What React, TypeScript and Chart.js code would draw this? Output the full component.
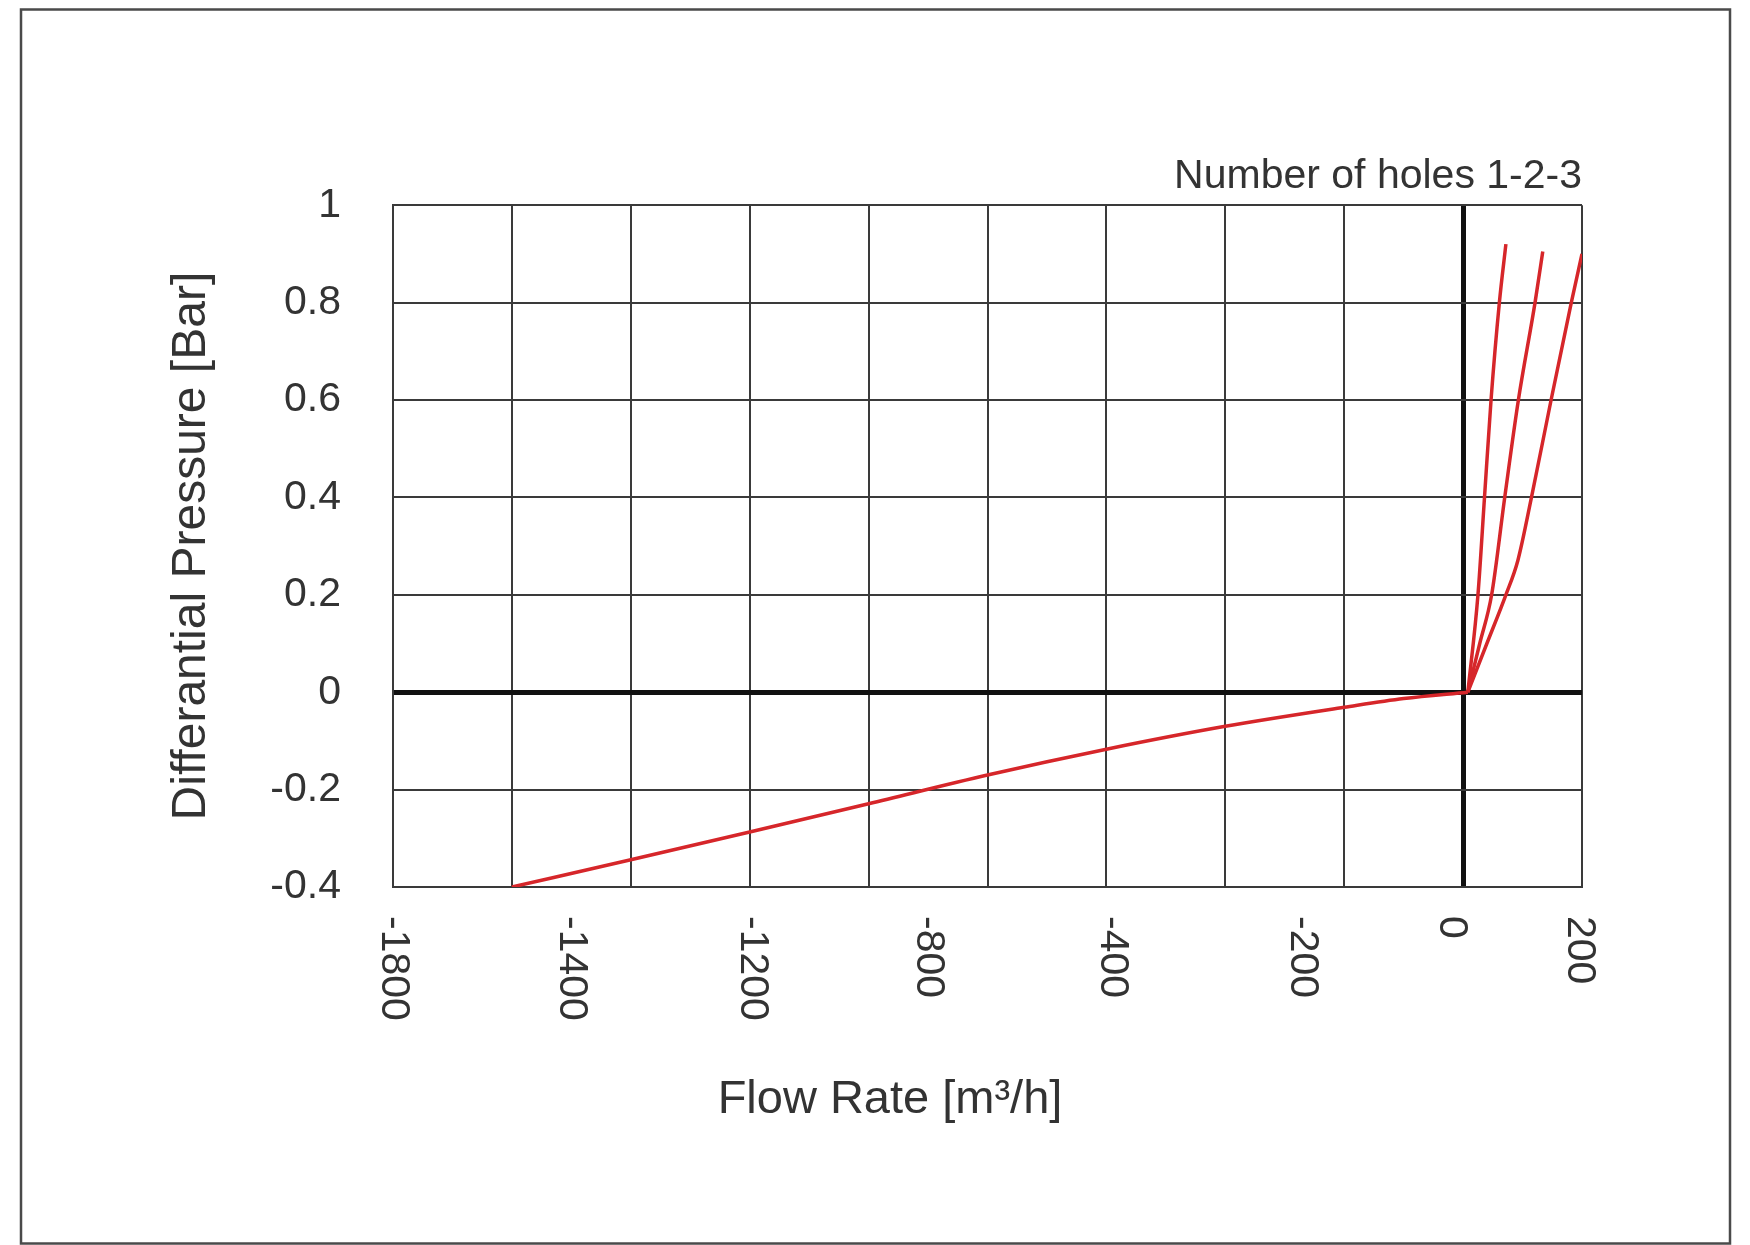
import React, { useEffect, useRef } from 'react';
import { Chart, registerables } from 'chart.js';

Chart.register(...registerables);

// ---- Data ----
const xMin = -1800;
const xMax = 200;
const xStep = 200;
const yMin = -0.4;
const yMax = 1;
const yStep = 0.2;

// Reverse flow (negative) branch
const reverseFlowX = [-1600, -1400, -1200, -1000, -800, -600, -400, -200, -100, 8];
const reverseFlowY = [-0.4, -0.344, -0.287, -0.229, -0.17, -0.117, -0.07, -0.031, -0.013, 0];

// Forward flow, 1 hole / 2 holes / 3 holes
const holes1X = [8, 25, 36, 47, 61, 72];
const holes1Y = [0, 0.2, 0.4, 0.6, 0.8, 0.92];
const holes2X = [8, 28, 48, 70, 93, 121, 134];
const holes2Y = [0, 0.1, 0.2, 0.4, 0.6, 0.8, 0.905];
const holes3X = [8, 40, 72, 92, 115, 148, 182, 200];
const holes3Y = [0, 0.1, 0.2, 0.27, 0.4, 0.6, 0.8, 0.9];

// X tick labels as printed on the original (placed where the original prints them)
const xTickLabels = ['-1800', '-1400', '-1200', '-800', '-400', '-200', '0', '200'];
const xTickLabelAt = [-1800, -1500, -1195, -900, -590, -270, -20, 195];

const titleText = 'Number of holes 1-2-3';
const xTitleText = 'Flow Rate [m³/h]';
const yTitleText = 'Differantial Pressure [Bar]';

const FONT = '"Liberation Sans", Arial, Helvetica, sans-serif';
const TEXT = '#333333';
const RED = '#d6262a';

const pts = (xs: number[], ys: number[]) => xs.map((x, i) => ({ x, y: ys[i] }));

const isZero = (v: number) => Math.abs(v) < 1e-9;

export default function App() {
  const ref = useRef<HTMLCanvasElement | null>(null);

  useEffect(() => {
    if (!ref.current) return;

    const decor = {
      id: 'decor',
      beforeDraw(chart: any) {
        const { ctx, width, height } = chart;
        ctx.save();
        ctx.fillStyle = '#ffffff';
        ctx.fillRect(0, 0, width, height);
        ctx.strokeStyle = '#4a4a4a';
        ctx.lineWidth = 2.5;
        ctx.strokeRect(21, 9.5, 1709, 1234);
        ctx.restore();
      },
      afterDraw(chart: any) {
        const { ctx, chartArea, scales } = chart;
        const x = scales.x;
        ctx.save();
        ctx.fillStyle = TEXT;
        ctx.font = `41px ${FONT}`;
        ctx.textAlign = 'left';
        ctx.textBaseline = 'middle';
        xTickLabels.forEach((t, i) => {
          const px = x.getPixelForValue(xTickLabelAt[i]);
          ctx.save();
          ctx.translate(px, chartArea.bottom + 29);
          ctx.rotate(Math.PI / 2);
          ctx.fillText(t, 0, 0);
          ctx.restore();
        });
        ctx.font = `47px ${FONT}`;
        ctx.textAlign = 'center';
        ctx.textBaseline = 'middle';
        ctx.fillText(xTitleText, chartArea.left + 497, chartArea.bottom + 213);
        ctx.restore();
      },
    };

    const chart = new Chart(ref.current, {
      type: 'line',
      data: {
        datasets: [
          { label: 'reverse', data: pts(reverseFlowX, reverseFlowY) },
          { label: '1 hole', data: pts(holes1X, holes1Y) },
          { label: '2 holes', data: pts(holes2X, holes2Y) },
          { label: '3 holes', data: pts(holes3X, holes3Y) },
        ].map((d) => ({
          ...d,
          borderColor: RED,
          backgroundColor: RED,
          borderWidth: 3.5,
          pointRadius: 0,
          cubicInterpolationMode: 'monotone' as const,
          fill: false,
        })),
      },
      options: {
        responsive: false,
        animation: false,
        devicePixelRatio: 1,
        layout: { padding: { left: 0, top: 0, right: 168, bottom: 0 } },
        plugins: {
          legend: { display: false },
          tooltip: { enabled: false },
          title: {
            display: true,
            text: titleText,
            align: 'end',
            color: TEXT,
            font: { family: FONT, size: 41, weight: 'normal', lineHeight: 1.2 },
            padding: { top: 152, bottom: 4 },
          },
        },
        scales: {
          x: {
            type: 'linear',
            min: xMin,
            max: xMax,
            ticks: { display: false, stepSize: xStep },
            grid: {
              drawTicks: false,
              color: (c: any) => (c.tick && isZero(c.tick.value) ? '#111111' : '#3a3a3a'),
              lineWidth: (c: any) => (c.tick && isZero(c.tick.value) ? 5 : 2),
            },
            border: { display: true, color: '#3a3a3a', width: 2 },
            afterFit: (s: any) => {
              s.height = 358;
            },
          },
          y: {
            type: 'linear',
            min: yMin,
            max: yMax,
            ticks: {
              stepSize: yStep,
              color: TEXT,
              padding: 52,
              font: { family: FONT, size: 41 },
              callback: (v: any) => String(Math.round(Number(v) * 10) / 10),
            },
            title: {
              display: true,
              text: yTitleText,
              color: TEXT,
              font: { family: FONT, size: 48, lineHeight: 1.2 },
              padding: { top: 163, bottom: 0 },
            },
            grid: {
              drawTicks: false,
              color: (c: any) => (c.tick && isZero(c.tick.value) ? '#111111' : '#3a3a3a'),
              lineWidth: (c: any) => (c.tick && isZero(c.tick.value) ? 5 : 2),
            },
            border: { display: true, color: '#3a3a3a', width: 2 },
            afterFit: (s: any) => {
              s.width = 393;
            },
          },
        },
      },
      plugins: [decor],
    });

    return () => chart.destroy();
  }, []);

  return (
    <canvas
      ref={ref}
      width={1750}
      height={1245}
      style={{ position: 'absolute', left: 0, top: 0, width: 1750, height: 1245 }}
    />
  );
}
